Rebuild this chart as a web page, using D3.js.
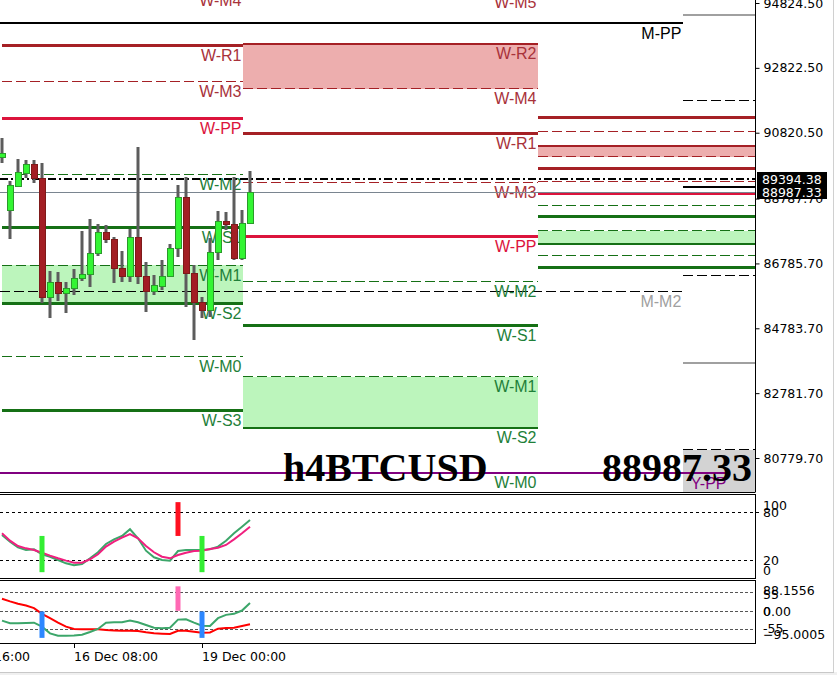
<!DOCTYPE html>
<html><head><meta charset="utf-8">
<script src="https://cdn.jsdelivr.net/npm/d3@7"></script>
<style>body{margin:0;background:#fff;} svg{display:block;}</style>
</head><body><svg id="c" width="837" height="675"></svg>
<script>
// ---------------- DATA ----------------
const opens  = [90071,88435,89176,89577,89855,89423,85750,86213,85873,86027,86336,86460,87108,87756,87540,86645,86398,87602,86398,85935,86089,86398,87262,88836,86490,85595,85348,87139,88096,88003,86960,88034];
const highs  = [90657,89330,90009,89978,89978,89886,86552,86521,86213,86614,87787,88157,88003,87972,87602,87169,87849,90380,86830,86429,86892,87386,89207,89454,86737,85750,87571,88404,88373,89454,88435,89639];
const lows   = [89886,87540,89150,89423,89268,85564,85101,85626,85256,85811,86243,86058,87015,87416,86182,86213,86213,86151,85287,85811,85966,86367,86984,85441,84422,85101,85132,86892,87818,86900,86900,87990];
const closes = [90194,89207,89608,89855,89423,85750,86213,85873,86027,86336,86460,87108,87756,87540,86645,86398,87602,86398,85935,86120,86398,87262,88836,86490,85595,85348,87139,88096,88003,86960,88034,88987.33];

const priceTicks = [94824.50, 92822.50, 90820.50, 88787.70, 86785.70, 84783.70, 82781.70, 80779.70];
const timeTicks = [[-7, "13 Dec 16:00"], [9, "16 Dec 08:00"], [25, "19 Dec 00:00"]];

const prevWeekLevels = [["W-M4",95226,"Mr"],["W-R1",93528,"R"],["W-M3",92386,"Mr"],["W-PP",91244,"PP"],["W-M2",89530,"Ms"],["W-S1",87880,"S"],["W-M1",86722,"Ms"],["W-S2",85564,"S"],["W-M0",83898,"Ms"],["W-S3",82231,"S"]];
const prevWeekZones = [[86722,85564,"G"]];
const thisWeekLevels = [["W-M5",95164,"Mr"],["W-R2",93559,"R2"],["W-M4",92170,"Mr"],["W-R1",90781,"R"],["W-M3",89269,"Mr"],["W-PP",87632,"PP"],["W-M2",86243,"Ms"],["W-S1",84855,"S"],["W-M1",83280,"Ms"],["W-S2",81706,"S2"],["W-M0",80317,"Ms"]];
const thisWeekZones = [[93559,92170,"P"],[83280,81706,"G"]];
const dayLevels = [["R3",91275,"R"],["M5",90843,"Mr"],["R2",90420,"R2"],["M4",90074,"Mr"],["R1",89731,"R"],["M3",89330,"Mr"],["PP",88929,"PP"],["M2",88574,"Ms"],["S1",88219,"S"],["M1",87802,"Ms"],["S2",87386,"S2"],["M0",87028,"Ms"],["S3",86666,"S"]];
const dayZones = [[90420,90074,"P"],[87802,87386,"G"]];
const prevMonthLevels = [["M-PP",94207,"MPP"],["M-M2",85904,"MM"]];
const thisMonthLevels = [["M-R1",94463,"MR"],["M-M3",91809,"MM"],["M-PP",89154,"MPP"],["M-M2",86407,"MM"],["M-S1",83722,"MR"],["M-M1",81027,"MM"]];
const thisMonthZones = [[81027,79300,"Gr"]];
const yearLevels = [["Y-PP",80307,"Y"]];

// spans in bar units
const prevWeekSpan = [0, 30.125], thisWeekSpan = [30.125, 67], daySpan = [67, 94.125];
const prevMonthSpan = [-0.25, 85.1], thisMonthSpan = [85.1, 94.125], yearSpan = [-0.25, 90.75];

const dashDotPrice = 89394.38, bidPrice = 88987.33;
const symbolText = "h4BTCUSD";

const stochMain = [52.2,43.9,36.9,33.5,34.4,28.2,25.2,21.1,17.0,14.5,16.1,23.2,30.7,41.0,46.8,50.9,59.3,48.1,32.7,24.5,21.1,20.3,32.3,33.5,33.5,33.5,34.4,37.7,45.1,54.3,62.5,70.8];
const stochSignal = [54.3,45.1,38.5,35.6,33.5,30.2,26.5,23.2,20.3,17.8,17.8,22.0,28.2,37.7,43.9,48.9,53.4,48.1,38.5,30.7,25.2,23.2,27.3,30.2,32.3,32.7,34.8,36.4,39.8,46.8,54.3,62.5];
const stochMarks = [[5,51,6,"G"],[22,93,51,"R"],[25,51,6,"G"]];
const stochLevels = [80, 20];

const oscGreen = [-28.7,-36.7,-36.7,-35.7,-34.9,-47.1,-67.3,-74.6,-74.6,-73.6,-71.6,-63.3,-54.1,-34.9,-33.9,-33.9,-28.7,-33.9,-41.9,-50.1,-52.1,-50.1,-25.7,-24.7,-34.9,-44.0,-45.0,-21.4,-11.3,-8.3,1.8,24.5];
const oscRed = [37.6,29.4,22.3,17.1,9.2,-8.3,-21.4,-34.9,-47.1,-54.1,-55.0,-55.0,-55.0,-57.2,-58.3,-59.3,-59.3,-60.4,-64.2,-67.3,-68.4,-69.4,-59.3,-59.3,-62.4,-65.4,-64.4,-53.2,-51.2,-50.1,-45.0,-39.8];
const oscMarks = [[5,-1,-81,"B"],[22,75,1,"K"],[25,-1,-81,"B"]];
const oscLevels = [55, 0, -55];
const oscMax = 88.1556, oscMin = -95.0005;

// ---------------- LAYOUT ----------------
const plotRight = 755, mainBottom = 492;
const p1Top = 494, p1Bottom = 578, p2Top = 580, p2Bottom = 643;
const svg = d3.select("#c");
const x = d3.scaleLinear().domain([0, 1]).range([2, 10]);
const y = d3.scaleLinear().domain([80779.7, 94824.5]).range([458, 3]);
const y1 = d3.scaleLinear().domain([0, 100]).range([577, 496.5]);
const y2 = d3.scaleLinear().domain([oscMin, oscMax]).range([642.5, 582]);
const crisp = (v, w) => (Math.round(w) % 2 === 1) ? Math.floor(v) + 0.5 : Math.round(v);

const styles = {
  R:  {stroke:"#A52025", w:3, dash:null, label:"#A8323A"},
  R2: {stroke:"#A52025", w:2, dash:null, label:"#A8323A"},
  Mr: {stroke:"#A52025", w:1, dash:"10,4", label:"#A8323A"},
  PP: {stroke:"#DC143C", w:3, dash:null, label:"#DC143C"},
  Ms: {stroke:"#157015", w:1, dash:"10,4", label:"#1F7F3A"},
  S:  {stroke:"#157015", w:3, dash:null, label:"#1F7F3A"},
  S2: {stroke:"#157015", w:2, dash:null, label:"#1F7F3A"},
  MPP:{stroke:"#000000", w:2, dash:null, label:"#000000"},
  MM: {stroke:"#000000", w:1, dash:"10,4", label:"#A0A0A0"},
  MR: {stroke:"#A0A0A0", w:2, dash:null, label:"#A0A0A0"},
  Y:  {stroke:"#800080", w:2, dash:null, label:"#800080"}
};
const zoneFill = {P:"#EDAEAE", G:"#BCF5BC", Gr:"#D3D3D3"};

const defs = svg.append("defs");
defs.append("clipPath").attr("id","cm").append("rect").attr("x",0).attr("y",0).attr("width",plotRight).attr("height",mainBottom);
defs.append("clipPath").attr("id","c1").append("rect").attr("x",0).attr("y",p1Top).attr("width",plotRight).attr("height",p1Bottom-p1Top);
defs.append("clipPath").attr("id","c2").append("rect").attr("x",0).attr("y",p2Top).attr("width",plotRight).attr("height",p2Bottom-p2Top);

// window frame
svg.append("rect").attr("x",0).attr("y",672).attr("width",837).attr("height",3).attr("fill","#f0f0f0");
svg.append("line").attr("x1",0).attr("x2",834).attr("y1",672.5).attr("y2",672.5).attr("stroke","#c8c8c8");
svg.append("line").attr("x1",833.5).attr("x2",833.5).attr("y1",0).attr("y2",672).attr("stroke","#d0d0d0");

const main = svg.append("g").attr("clip-path","url(#cm)");

const segs = [
  {levels: prevMonthLevels, zones: [], span: prevMonthSpan, labels: true},
  {levels: thisMonthLevels, zones: thisMonthZones, span: thisMonthSpan, labels: false},
  {levels: prevWeekLevels, zones: prevWeekZones, span: prevWeekSpan, labels: true},
  {levels: thisWeekLevels, zones: thisWeekZones, span: thisWeekSpan, labels: true},
  {levels: dayLevels, zones: dayZones, span: daySpan, labels: false},
  {levels: yearLevels, zones: [], span: yearSpan, labels: true}
];
// zones
segs.forEach(s => {
  s.zones.forEach(z => {
    const t = Math.round(y(z[0])), b = Math.round(y(z[1]));
    main.append("rect").attr("x", Math.round(x(s.span[0]))).attr("width", Math.round(x(s.span[1])) - Math.round(x(s.span[0])))
      .attr("y", t).attr("height", b - t).attr("fill", zoneFill[z[2]]);
  });
});
// lines
segs.forEach(s => {
  s.levels.forEach(l => {
    const st = styles[l[2]];
    const yy = crisp(y(l[1]), st.w);
    main.append("line").attr("x1", Math.round(x(s.span[0]))).attr("x2", Math.round(x(s.span[1])))
      .attr("y1", yy).attr("y2", yy).attr("stroke", st.stroke)
      .attr("stroke-width", st.w).attr("stroke-dasharray", st.dash);
  });
});
// labels
segs.filter(s => s.labels).forEach(s => {
  s.levels.forEach(l => {
    const st = styles[l[2]];
    main.append("text").attr("x", x(s.span[1]) - 1.5).attr("y", y(l[1]) + 15.5)
      .attr("text-anchor","end").attr("font-family","'Liberation Sans', Arial, sans-serif")
      .attr("font-size", 16).attr("fill", st.label).text(l[0]);
  });
});
// dash-dot and bid lines
main.append("line").attr("x1",0).attr("x2",plotRight).attr("y1",crisp(y(dashDotPrice),2)).attr("y2",crisp(y(dashDotPrice),2))
  .attr("stroke","#000").attr("stroke-width",2).attr("stroke-dasharray","8,3,2,3");
main.append("line").attr("x1",0).attr("x2",plotRight).attr("y1",crisp(y(bidPrice),1)).attr("y2",crisp(y(bidPrice),1))
  .attr("stroke","#7a8590").attr("stroke-width",1);

// candles
const candles = main.append("g");
opens.forEach((o, i) => {
  const c = closes[i], cx = x(i);
  candles.append("rect").attr("x", cx - 1.5).attr("width", 3)
    .attr("y", Math.round(y(highs[i]))).attr("height", Math.round(y(lows[i])) - Math.round(y(highs[i]))).attr("fill", "#5c5c5c");
  const top = Math.round(y(Math.max(o, c))), bot = Math.round(y(Math.min(o, c)));
  const up = c >= o;
  candles.append("rect").attr("x", cx - 2.5).attr("width", 6)
    .attr("y", top + 0.5).attr("height", Math.max(1, bot - top))
    .attr("fill", up ? "#33F533" : "#A31E24")
    .attr("stroke", up ? "#2B9A2B" : "#7E1A1A").attr("stroke-width", 1);
});

// big texts
main.append("text").attr("x", 283).attr("y", 481).attr("font-family","'Liberation Serif','Times New Roman',serif")
  .attr("font-weight","bold").attr("font-size",40).attr("fill","#000").text(symbolText);
main.append("text").attr("x", 752).attr("y", 481).attr("text-anchor","end").attr("font-family","'Liberation Serif','Times New Roman',serif")
  .attr("font-weight","bold").attr("font-size",40).attr("fill","#000").text(d3.format(".2f")(bidPrice));

// main frame
svg.append("line").attr("x1",plotRight+0.5).attr("x2",plotRight+0.5).attr("y1",0).attr("y2",mainBottom).attr("stroke","#000");
svg.append("line").attr("x1",0).attr("x2",plotRight+0.5).attr("y1",mainBottom+0.5).attr("y2",mainBottom+0.5).attr("stroke","#000");

// price axis
const axFont = "'DejaVu Sans', Tahoma, sans-serif";
const ax = svg.append("g").attr("transform", `translate(${plotRight+0.5},0)`)
  .call(d3.axisRight(y).tickValues(priceTicks).tickFormat(d3.format(".2f")).tickSize(4).tickPadding(4));
ax.select(".domain").remove();
ax.selectAll("text").attr("font-family", axFont).attr("font-size", 12.5).attr("fill","#000");
ax.selectAll("line").attr("stroke","#000");

// price boxes
[[dashDotPrice],[bidPrice]].forEach(p => {
  const yy = Math.round(y(p[0]));
  svg.append("rect").attr("x",757).attr("y",yy-7).attr("width",70).attr("height",14).attr("fill","#000");
  svg.append("text").attr("x",762).attr("y",yy).attr("dy","0.36em").attr("font-family",axFont)
    .attr("font-size",12.5).attr("fill","#fff").text(d3.format(".2f")(p[0]));
});

// ---------------- PANEL 1 ----------------
svg.append("rect").attr("x",-1).attr("y",p1Top+0.5).attr("width",plotRight+1.5).attr("height",p1Bottom-p1Top).attr("fill","none").attr("stroke","#000");
const g1 = svg.append("g").attr("clip-path","url(#c1)");
stochLevels.forEach(v => g1.append("line").attr("x1",0).attr("x2",plotRight).attr("y1",crisp(y1(v),1)).attr("y2",crisp(y1(v),1))
  .attr("stroke","#000").attr("stroke-dasharray","3,3"));
const line1 = arr => d3.line().x((d,i)=>x(i)).y(d=>y1(d))(arr);
g1.append("path").attr("d", line1(stochMain)).attr("fill","none").attr("stroke","#3CA66A").attr("stroke-width",2);
g1.append("path").attr("d", line1(stochSignal)).attr("fill","none").attr("stroke","#F0207F").attr("stroke-width",2);
const markCol = {G:"#33EE33", R:"#FF1020", B:"#2D87FF", K:"#FF69B4"};
stochMarks.forEach(m => g1.append("rect").attr("x", x(m[0])-2.5).attr("width",5).attr("y", y1(m[1])).attr("height", y1(m[2])-y1(m[1])).attr("fill", markCol[m[3]]));
const lab = (t, yy) => svg.append("text").attr("x",763).attr("y",yy).attr("dy","0.36em").attr("font-family",axFont).attr("font-size",12.5).attr("fill","#000").text(t);
svg.append("line").attr("x1",plotRight).attr("x2",plotRight+4).attr("y1",crisp(y1(80),1)).attr("y2",crisp(y1(80),1)).attr("stroke","#000");
lab("100", y1(100)+8.5); lab("80", y1(80)); lab("20", y1(20)); lab("0", y1(0)-7);

// ---------------- PANEL 2 ----------------
svg.append("rect").attr("x",-1).attr("y",p2Top+0.5).attr("width",plotRight+1.5).attr("height",p2Bottom-p2Top).attr("fill","none").attr("stroke","#000");
const g2 = svg.append("g").attr("clip-path","url(#c2)");
oscLevels.forEach(v => g2.append("line").attr("x1",0).attr("x2",plotRight).attr("y1",crisp(y2(v),1)).attr("y2",crisp(y2(v),1))
  .attr("stroke","#555").attr("stroke-dasharray","3,2"));
const line2 = arr => d3.line().x((d,i)=>x(i)).y(d=>y2(d))(arr);
g2.append("path").attr("d", line2(oscRed)).attr("fill","none").attr("stroke","#FF0000").attr("stroke-width",2);
g2.append("path").attr("d", line2(oscGreen)).attr("fill","none").attr("stroke","#3CA66A").attr("stroke-width",2);
oscMarks.forEach(m => g2.append("rect").attr("x", x(m[0])-2.5).attr("width",5).attr("y", y2(m[1])).attr("height", y2(m[2])-y2(m[1])).attr("fill", markCol[m[3]]));
lab(d3.format(".4f")(oscMax), y2(oscMax)+8);
lab("55", y2(55)+1.5);
lab("0.00", y2(0)); lab("0", y2(0));
lab("-55", y2(-55)-1);
lab(d3.format(".4f")(oscMin), y2(oscMin)-8);

// ---------------- TIME AXIS ----------------
timeTicks.forEach(t => {
  const tx = x(t[0]);
  svg.append("line").attr("x1",tx+0.5).attr("x2",tx+0.5).attr("y1",p2Bottom).attr("y2",p2Bottom+5).attr("stroke","#000");
  svg.append("text").attr("x",tx).attr("y",661).attr("font-family",axFont).attr("font-size",12.5).attr("fill","#000").text(t[1]);
});
</script></body></html>
